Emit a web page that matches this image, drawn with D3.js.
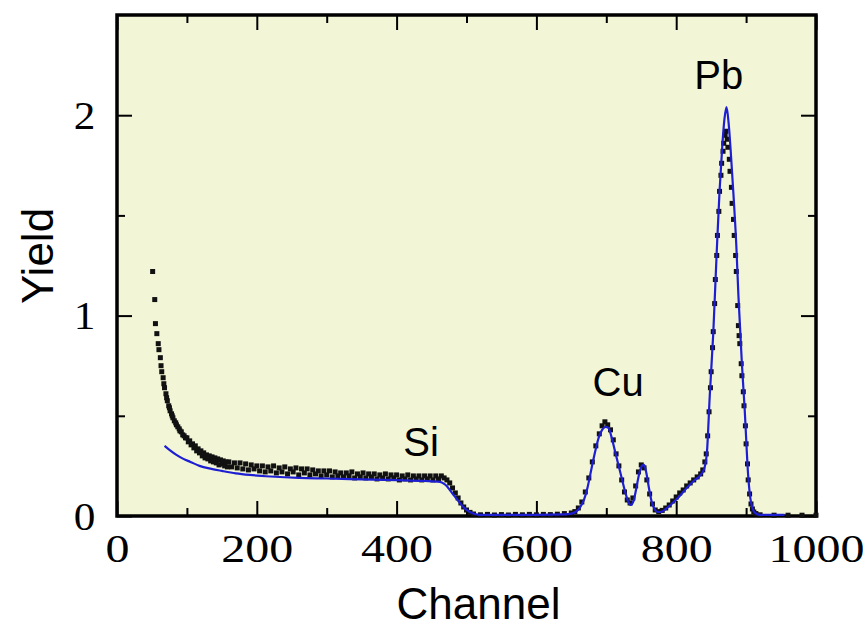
<!DOCTYPE html>
<html><head><meta charset="utf-8">
<script src="https://cdn.jsdelivr.net/npm/d3@7"></script>
<style>body{margin:0;background:#fff}</style>
</head><body>
<svg id="c" width="866" height="628"></svg>
<script>
// ---- data ----
const dataChannel = [51,54,55,57,59,60,62,63,64,66,67,68,70,71,72,74,75,76,78,79,80,82,84,85,87,89,90,92,94,96,98,
100,102,104,106,108,110,112,114,116,118,120,122,124,126,128,130,132,134,136,138,140,142,144,146,148,150,152,154,156,158,
160,164,168,172,176,180,184,188,192,196,200,204,208,212,216,220,224,228,232,236,240,244,248,252,256,260,264,268,272,276,280,284,288,292,296,
300,304,308,312,316,320,324,328,332,336,340,344,348,352,356,360,364,368,372,376,380,384,388,392,396,
400,404,408,412,416,420,424,428,432,436,440,444,448,452,456,460,464,468,472,476,480,484,488,492,496,500,505,510,
520,530,540,550,560,570,580,590,600,610,620,630,640,650,655,660,665,670,675,680,685,690,694,698,702,706,710,714,718,722,726,730,734,738,742,746,750,754,758,762,766,770,775,780,785,790,795,800,805,810,815,820,825,830,835,
838,841,843,845,847,849,850,852,853,855,856,858,859,861,862,864,865,867,868,870,871,873,874,876,877,879,880,882,883,885,886,888,889,890,891,893,894,896,897,899,900,902,903,905,907,909,911,914,920,940,960,980,1000];
const dataYield = [1.22,1.08,0.96,0.91,0.86,0.83,0.79,0.75,0.72,0.69,0.66,0.64,0.61,0.59,0.575,0.55,0.54,0.525,0.51,0.50,0.49,0.475,0.465,0.455,0.445,0.435,0.425,0.42,0.405,0.40,0.39,
0.39,0.37,0.375,0.355,0.36,0.34,0.35,0.325,0.335,0.315,0.325,0.30,0.315,0.29,0.305,0.285,0.30,0.275,0.295,0.27,0.29,0.265,0.285,0.255,0.28,0.26,0.275,0.25,0.27,0.245,
0.27,0.245,0.265,0.24,0.265,0.235,0.26,0.23,0.255,0.235,0.25,0.225,0.25,0.22,0.245,0.225,0.25,0.215,0.24,0.22,0.245,0.21,0.235,0.22,0.24,0.205,0.235,0.215,0.235,0.205,0.23,0.21,0.225,0.2,0.225,
0.205,0.225,0.195,0.22,0.2,0.215,0.195,0.215,0.2,0.22,0.19,0.21,0.195,0.215,0.19,0.21,0.195,0.21,0.185,0.205,0.19,0.21,0.185,0.205,0.19,
0.205,0.18,0.2,0.185,0.205,0.18,0.2,0.185,0.2,0.18,0.2,0.185,0.2,0.18,0.2,0.185,0.2,0.19,0.18,0.165,0.14,0.115,0.09,0.065,0.045,0.03,0.018,0.01,
0.006,0.008,0.005,0.007,0.005,0.008,0.006,0.008,0.006,0.008,0.007,0.009,0.012,0.015,0.022,0.04,0.07,0.12,0.19,0.27,0.35,0.41,0.45,0.47,0.455,0.43,0.38,0.31,0.25,0.18,0.12,0.08,0.065,0.09,0.15,0.22,0.255,0.24,0.18,0.11,0.06,0.03,0.022,0.028,0.04,0.055,0.075,0.095,0.115,0.13,0.15,0.165,0.18,0.195,0.21,
0.23,0.27,0.31,0.40,0.52,0.64,0.72,0.84,0.92,1.06,1.18,1.30,1.40,1.52,1.62,1.70,1.76,1.82,1.86,1.90,1.92,1.88,1.84,1.78,1.72,1.64,1.56,1.48,1.40,1.30,1.22,1.05,0.95,0.90,0.86,0.76,0.70,0.62,0.55,0.45,0.36,0.26,0.18,0.11,0.06,0.035,0.02,0.012,0.006,0.004,0.004,0.004,0.004];

const fitChannel = [68,75,85,95,105,118,135,150,170,190,220,260,300,350,400,440,462,468,472,476,480,485,491,496,500,505,512,519,600,640,650,656,662,668,673,679,684,689,694,699,703,707,712,717,722,727,731,735,739,743,747,751,754,757,761,765,769,773,778,785,795,805,815,825,835,840,844,848,853,858,862,866,869,872,875,878,882,886,889,894,898,903,906,909,913,920,955];
const fitYield = [0.35,0.33,0.305,0.285,0.27,0.25,0.235,0.225,0.213,0.205,0.197,0.19,0.187,0.183,0.179,0.175,0.17,0.16,0.148,0.13,0.112,0.09,0.063,0.043,0.03,0.02,0.01,0.006,0.006,0.008,0.012,0.02,0.04,0.08,0.14,0.24,0.32,0.39,0.43,0.445,0.44,0.40,0.33,0.26,0.19,0.12,0.075,0.055,0.075,0.14,0.21,0.25,0.255,0.22,0.14,0.07,0.035,0.02,0.02,0.035,0.065,0.10,0.14,0.175,0.205,0.235,0.32,0.6,0.91,1.32,1.62,1.85,1.98,2.04,1.96,1.82,1.60,1.35,1.10,0.76,0.53,0.20,0.09,0.04,0.015,0.006,0.006];

const xTickValues = [0,200,400,600,800,1000];
const xMinorValues = [100,300,500,700,900];
const yTickValues = [0,1,2];
const yMinorValues = [0.5,1.5];
const peakLabels = ["Si","Cu","Pb"];
const peakChannels = [435,717,861];
const peakYields = [0.30,0.60,2.13];

// ---- drawing ----
const svg = d3.select("#c");
const L = 117, R = 816, T = 15, B = 516;
const x = d3.scaleLinear().domain([0,1000]).range([L,R]);
const y = d3.scaleLinear().domain([0,2.5]).range([B,T]);

svg.append("rect").attr("x",L).attr("y",T).attr("width",R-L).attr("height",B-T).attr("fill","#f2f6d6");

function styleAxis(g){ g.select(".domain").remove(); g.selectAll(".tick line").attr("stroke","#000").attr("stroke-width",2); }

// major ticks
const gb = svg.append("g").attr("transform",`translate(0,${B})`)
  .call(d3.axisBottom(x).tickValues(xTickValues).tickSize(-15).tickFormat(d3.format("d")));
styleAxis(gb);
gb.selectAll("text").attr("y",46).attr("dy",0).attr("font-family","'Liberation Serif','Times New Roman',serif")
  .attr("font-size",40).attr("fill","#000").attr("transform","scale(1.2,1)");
svg.append("g").attr("transform",`translate(0,${T})`)
  .call(d3.axisTop(x).tickValues(xTickValues).tickSize(-15).tickFormat("")).call(styleAxis);
svg.append("g").attr("transform",`translate(0,${B})`)
  .call(d3.axisBottom(x).tickValues(xMinorValues).tickSize(-8).tickFormat("")).call(styleAxis);
svg.append("g").attr("transform",`translate(0,${T})`)
  .call(d3.axisTop(x).tickValues(xMinorValues).tickSize(-8).tickFormat("")).call(styleAxis);

const gl = svg.append("g").attr("transform",`translate(${L},0)`)
  .call(d3.axisLeft(y).tickValues(yTickValues).tickSize(-15).tickFormat(d3.format("d")));
styleAxis(gl);
gl.selectAll("text").attr("x",-20).attr("dy","0.33em").attr("font-family","'Liberation Serif','Times New Roman',serif")
  .attr("font-size",40).attr("fill","#000").attr("transform","scale(1.08,1)");
svg.append("g").attr("transform",`translate(${R},0)`)
  .call(d3.axisRight(y).tickValues(yTickValues).tickSize(-15).tickFormat("")).call(styleAxis);
svg.append("g").attr("transform",`translate(${L},0)`)
  .call(d3.axisLeft(y).tickValues(yMinorValues).tickSize(-8).tickFormat("")).call(styleAxis);
svg.append("g").attr("transform",`translate(${R},0)`)
  .call(d3.axisRight(y).tickValues(yMinorValues).tickSize(-8).tickFormat("")).call(styleAxis);

// frame
svg.append("rect").attr("x",L).attr("y",T).attr("width",R-L).attr("height",B-T)
  .attr("fill","none").attr("stroke","#000").attr("stroke-width",3.5);

// data points
const pts = dataChannel.map((c,i)=>[c,dataYield[i]]);
svg.append("g").selectAll("rect").data(pts).join("rect")
  .attr("x",d=>x(d[0])-2.5).attr("y",d=>y(d[1])-2.5).attr("width",5).attr("height",5).attr("fill","#111");

// fit line
const fit = fitChannel.map((c,i)=>[c,fitYield[i]]);
svg.append("path").datum(fit)
  .attr("d",d3.line().x(d=>x(d[0])).y(d=>y(d[1])).curve(d3.curveMonotoneX))
  .attr("fill","none").attr("stroke","#1e1ed2").attr("stroke-width",2.2);

// peak labels
svg.append("g").selectAll("text").data(peakLabels).join("text")
  .attr("x",(d,i)=>x(peakChannels[i])).attr("y",(d,i)=>y(peakYields[i]))
  .attr("text-anchor","middle").attr("font-family","'Liberation Sans',Arial,sans-serif")
  .attr("font-size",40).attr("fill","#000").text(d=>d);

// axis titles
svg.append("text").attr("x",(L+R)/2+12).attr("y",619).attr("text-anchor","middle")
  .attr("font-family","'Liberation Sans',Arial,sans-serif").attr("font-size",44).attr("fill","#000").text("Channel");
svg.append("text").attr("transform","translate(53,256) rotate(-90)").attr("text-anchor","middle")
  .attr("font-family","'Liberation Sans',Arial,sans-serif").attr("font-size",44).attr("fill","#000").text("Yield");
</script>
</body></html>
